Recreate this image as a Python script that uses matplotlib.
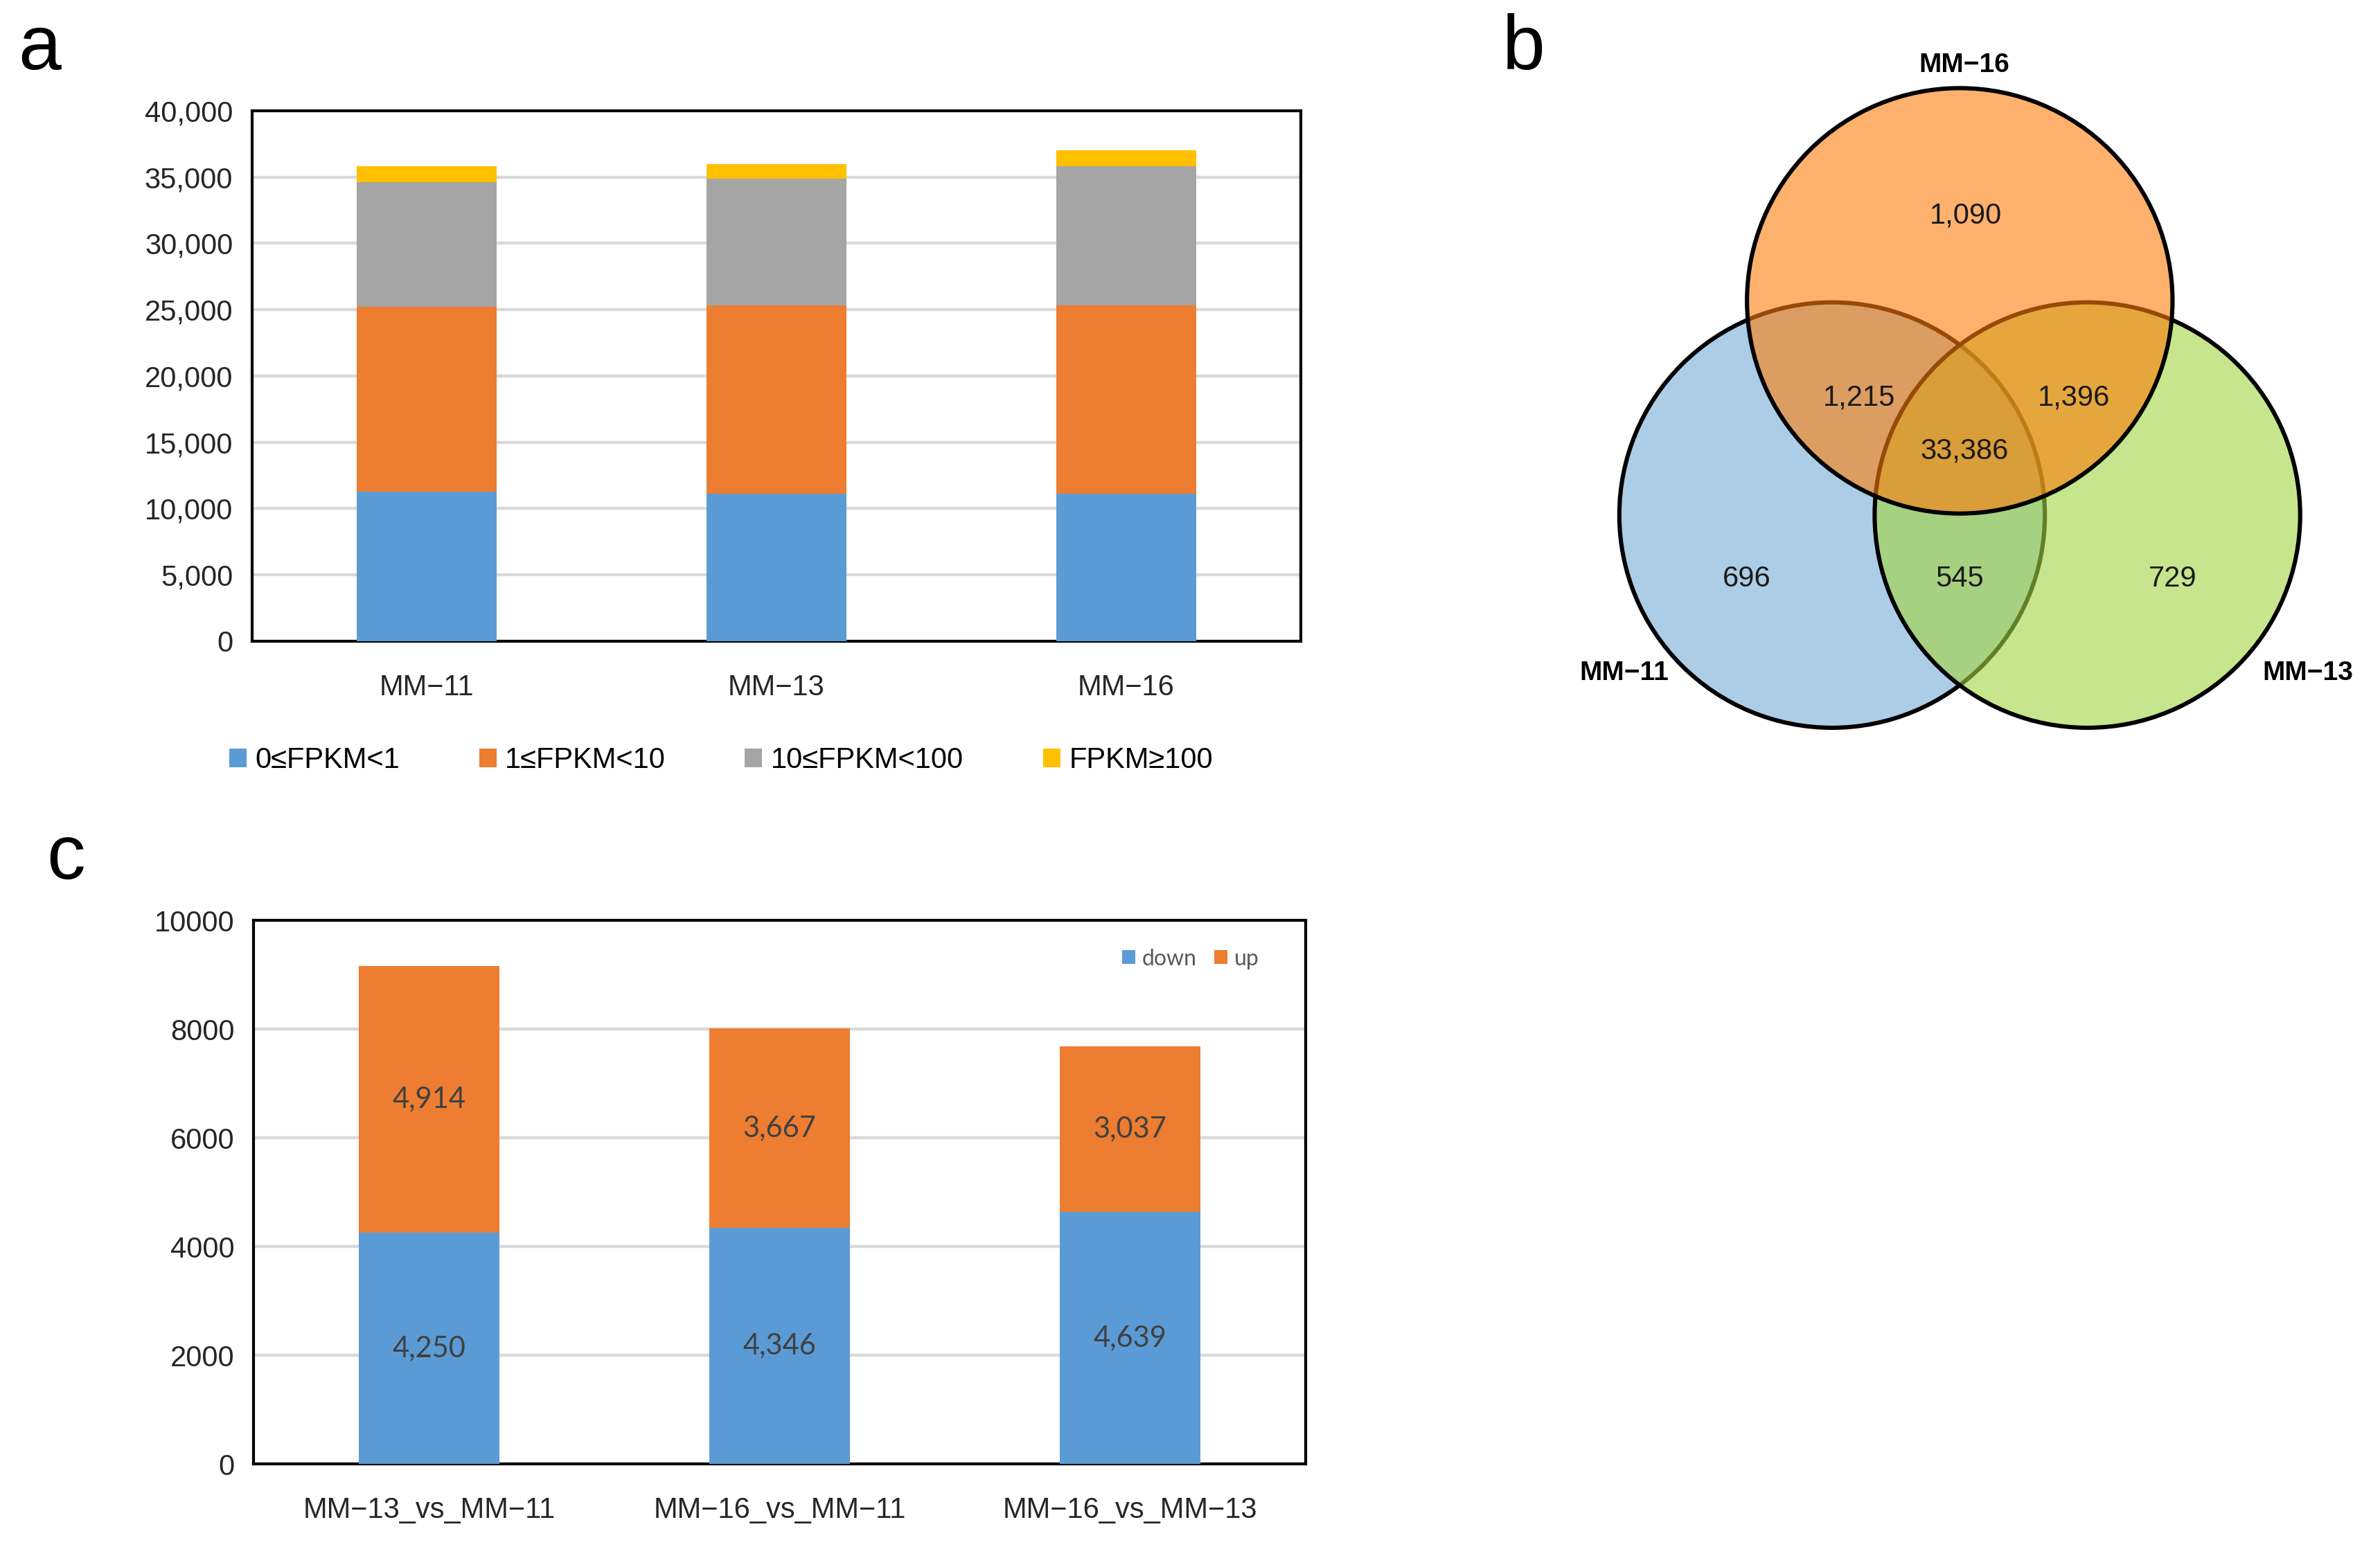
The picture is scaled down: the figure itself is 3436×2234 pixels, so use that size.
import matplotlib
matplotlib.use("Agg")
import matplotlib.pyplot as plt
from matplotlib.patches import Circle
from matplotlib.ticker import FuncFormatter
import numpy as np

plt.rcParams['font.family'] = ['Liberation Sans', 'DejaVu Sans']

# panel a
samples = ['MM\u221211', 'MM\u221213', 'MM\u221216']
fpkm_classes = ['0\u2264FPKM<1', '1\u2264FPKM<10', '10\u2264FPKM<100', 'FPKM\u2265100']
fpkm_0_1 = [11300, 11100, 11100]
fpkm_1_10 = [13900, 14250, 14200]
fpkm_10_100 = [9400, 9550, 10500]
fpkm_100 = [1200, 1100, 1200]

# panel b
venn_sets = ['MM\u221216', 'MM\u221211', 'MM\u221213']
only16, only11, only13 = 1090, 696, 729
n16_11, n16_13, n11_13 = 1215, 1396, 545
n_all = 33386

# panel c
comparisons = ['MM\u221213_vs_MM\u221211', 'MM\u221216_vs_MM\u221211', 'MM\u221216_vs_MM\u221213']
down = [4250, 4346, 4639]
up = [4914, 3667, 3037]

blue = '#5B9BD5'
orange = '#ED7D31'
gray = '#A5A5A5'
yellow = '#FFC000'

fig = plt.figure(figsize=(17.185, 11.17), dpi=200)

# ---------- a ----------
ax = fig.add_axes([0.1059, 0.5855, 0.4405, 0.3429])
x = np.arange(len(samples))
bottom = np.zeros(len(samples))
for vals, col, lab in zip([fpkm_0_1, fpkm_1_10, fpkm_10_100, fpkm_100],
                          [blue, orange, gray, yellow], fpkm_classes):
    ax.bar(x, vals, 0.4, bottom=bottom, color=col, label=lab, zorder=3)
    bottom += np.array(vals)
ax.set_xlim(-0.5, 2.5)
ax.set_ylim(0, 40000)
ax.set_yticks(np.arange(0, 40001, 5000))
ax.yaxis.set_major_formatter(FuncFormatter(lambda v, p: f'{int(v):,}'))
ax.set_xticks(x)
ax.set_xticklabels(samples)
ax.grid(axis='y', color='#D9D9D9', lw=1.6, zorder=0)
ax.tick_params(length=0, labelsize=15, colors='#262626', pad=10)
ax.tick_params(axis='x', pad=17)
for s in ax.spines.values():
    s.set_linewidth(1.5)
ax.legend(loc='upper center', bbox_to_anchor=(0.447, -0.15), ncol=4, frameon=False,
          fontsize=15, handlelength=0.6, handleheight=0.6, handletextpad=0.3,
          columnspacing=2.75)
fig.text(0.0075, 0.968, 'a', fontsize=40, va='center', ha='left')

# ---------- b ----------
axv = fig.add_axes([0.638, 0.4893, 0.3576, 0.5107])
axv.set_xlim(1000, 1560)
axv.set_ylim(520, 0)
axv.set_aspect('equal')
axv.axis('off')
r = 140
circ = [((1206, 339), (118 / 255, 173 / 255, 213 / 255)),
        ((1374, 339), (163 / 255, 213 / 255, 63 / 255)),
        ((1290, 198), (252 / 255, 125 / 255, 10 / 255))]
for (c, col) in circ:
    axv.add_patch(Circle(c, r, facecolor=(*col, 0.6), edgecolor='black', lw=2.2))
counts = [only16, n16_11, n16_13, n_all, only11, n11_13, only13]
pos = [(1294, 142), (1224, 262), (1365, 262), (1293, 297), (1150, 381), (1290, 381), (1430, 381)]
for n, (px, py) in zip(counts, pos):
    axv.text(px, py, f'{n:,}', ha='center', va='center', fontsize=15, color='#1a1a1a')
for name, (px, py) in zip(venn_sets, [(1293, 43), (1069, 443), (1519, 443)]):
    axv.text(px, py, name, ha='center', va='center', fontsize=14, fontweight='bold')
fig.text(0.631, 0.968, 'b', fontsize=40, va='center', ha='left')

# ---------- c ----------
axc = fig.add_axes([0.1066, 0.0537, 0.4417, 0.3514])
xc = np.arange(len(comparisons))
axc.bar(xc, down, 0.4, color=blue, label='down', zorder=3)
axc.bar(xc, up, 0.4, bottom=down, color=orange, label='up', zorder=3)
for i in range(len(comparisons)):
    axc.text(xc[i], down[i] / 2, f'{down[i]:,}', ha='center', va='center',
             fontsize=15, color='#404040', family='Lato')
    axc.text(xc[i], down[i] + up[i] / 2, f'{up[i]:,}', ha='center', va='center',
             fontsize=15, color='#404040', family='Lato')
axc.set_xlim(-0.5, 2.5)
axc.set_ylim(0, 10000)
axc.set_yticks(np.arange(0, 10001, 2000))
axc.set_xticks(xc)
axc.set_xticklabels(comparisons)
axc.grid(axis='y', color='#D9D9D9', lw=1.6, zorder=0)
axc.tick_params(length=0, labelsize=15, colors='#262626', pad=10)
axc.tick_params(axis='x', pad=17)
for s in axc.spines.values():
    s.set_linewidth(1.5)
leg = axc.legend(loc='upper right', bbox_to_anchor=(0.975, 0.985), ncol=2, frameon=False,
                 prop={'family': 'Lato', 'size': 11.5}, handlelength=0.6, handleheight=0.6,
                 handletextpad=0.3, columnspacing=0.8, labelcolor='#595959')
fig.text(0.0195, 0.445, 'c', fontsize=40, va='center', ha='left')

fig.savefig('out.png', dpi=200)
